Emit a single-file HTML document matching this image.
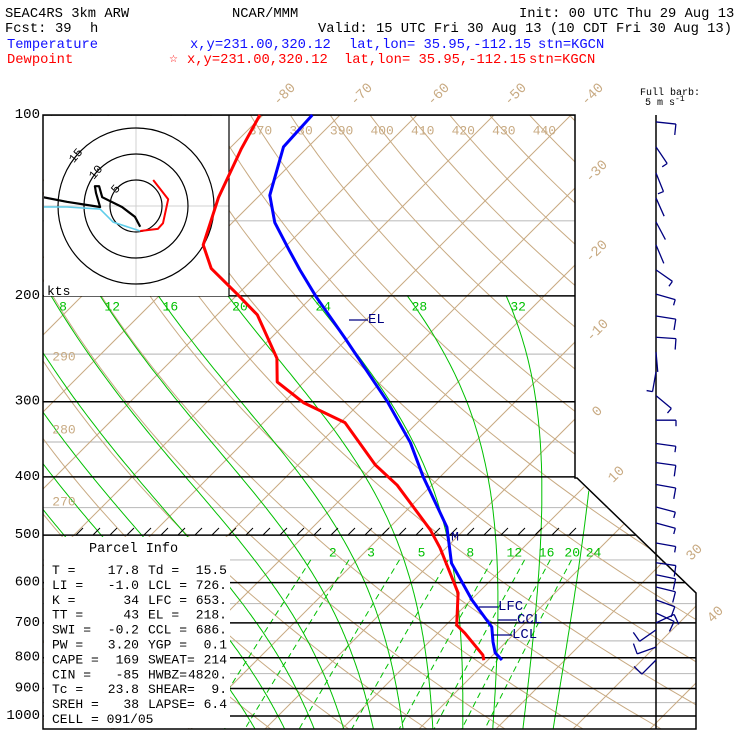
<!DOCTYPE html>
<html><head><meta charset="utf-8"><title>Skew-T KGCN</title>
<style>
html,body{margin:0;padding:0;background:#fff;}
svg{display:block;font-family:"Liberation Mono",monospace;}
</style></head>
<body>
<svg id="chart" xmlns="http://www.w3.org/2000/svg" width="740" height="740" viewBox="0 0 740 740">
<defs>
<clipPath id="plotClip"><path d="M43,115 L575,115 L575,478 L696,593 L696,729 L43,729 Z"/></clipPath>
<clipPath id="hodoClip"><rect x="44" y="116" width="185" height="180"/></clipPath>
</defs>
<rect x="0" y="0" width="740" height="740" fill="#fff"/>
<g font-size="13.8" xml:space="preserve">
<text x="5" y="17">SEAC4RS   3km ARW</text>
<text x="232" y="17">NCAR/MMM</text>
<text x="519" y="17">Init: 00 UTC Thu 29 Aug 13</text>
<text x="5" y="32">Fcst:</text>
<text x="55" y="32">39</text>
<text x="90" y="32">h</text>
<text x="318" y="32">Valid: 15 UTC Fri 30 Aug 13 (10 CDT Fri 30 Aug 13)</text>
<text x="7" y="48" fill="#1010ff">Temperature</text>
<text x="190" y="48" fill="#1010ff">x,y=231.00,320.12</text>
<text x="349" y="48" fill="#1010ff">lat,lon= 35.95,-112.15</text>
<text x="538" y="48" fill="#1010ff">stn=KGCN</text>
<text x="7" y="63" fill="#ff0000">Dewpoint</text>
<text x="169" y="62" fill="#ff0000" font-size="10" font-family="DejaVu Sans, sans-serif">☆</text>
<text x="187" y="63" fill="#ff0000">x,y=231.00,320.12</text>
<text x="344" y="63" fill="#ff0000">lat,lon= 35.95,-112.15</text>
<text x="529" y="63" fill="#ff0000">stn=KGCN</text>
</g>
<text x="640" y="95" font-size="10">Full barb:</text>
<text x="645" y="105" font-size="10">5 m s<tspan dy="-4" font-size="8">-1</tspan></text>
<g id="grid" clip-path="url(#plotClip)"></g>
<rect x="44" y="116" width="185" height="180" fill="#fff"/>
<rect x="44" y="537" width="186" height="191" fill="#fff"/>
<g id="hodo" clip-path="url(#hodoClip)"></g>
<path d="M43,115 L575,115 L575,478 L577,478 L696,593 L696,729 L43,729 Z" fill="none" stroke="#000" stroke-width="1.5"/>
<line x1="229" y1="115" x2="229" y2="296" stroke="#000" stroke-width="1.2"/>
<line x1="656" y1="115" x2="656" y2="729" stroke="#000" stroke-width="1.5"/>
<g id="over"></g>
<g font-size="13.5" xml:space="preserve">
<text x="89" y="552">Parcel Info</text>
</g>
<g id="parcel" font-size="13" xml:space="preserve"></g>
</svg>
<script>
// ---- data ----
const tempP = [100,113,136,151,168,181,201,235,300,351,400,485,557,641,711,753,785,807];
const tempC = [-73.6,-73.2,-68.7,-64.5,-59.0,-55.1,-49.4,-40.4,-26.6,-18.3,-12.2,-2.6,2.7,10.1,16.2,18.3,20.0,21.8];
const dewP = [100,114,137,164.5,180,198,215,254,278,301,325,382,413,490,525,624,706,728,792,808];
const dewC = [-80.4,-78.4,-75.1,-70.9,-66.8,-60.3,-54.8,-46.6,-43.5,-37.4,-29.4,-20,-14.5,-4.4,-0.8,7.4,11.4,13.5,18.7,19.5];
const pressureLevels = [100,200,300,400,500,600,700,800,900,1000];
const pressureHalf = [150,250,350,450,550,650,750,850,950];
const isotherms = [-130,-120,-110,-100,-90,-80,-70,-60,-50,-40,-30,-20,-10,0,10,20,30,40,50];
const dryThetas = [250,260,270,280,290,300,310,320,330,340,350,360,370,380,390,400,410,420,430,440,450,460,470];
const moistThetaW = [-8,-4,0,4,8,12,16,20,24,28,32,36];
const moistLabels = [8,12,16,20,24,28,32];
const mixRatios = [2,3,5,8,12,16,20,24];
const topThetaLabels = [370,380,390,400,410,420,430,440];
const leftThetaLabels = [290,280,270];
const hodoRedU = [3.3,6.2,5.2,4.2,0.8];
const hodoRedV = [5.0,1.3,-3.3,-4.4,-4.8];
const hodoBlackU = [0.8,-0.2,-2.7,-6.5,-7.1,-7.9,-7.7,-6.9,-13.3,-17.9];
const hodoBlackV = [-4.0,-2.1,-0.2,1.7,3.8,3.8,2.5,-0.2,0.8,1.7];
const hodoCyanU = [0.8,-4.4,-6.9,-13.3,-17.9,-17.9,-13.3];
const hodoCyanV = [-4.8,-3.1,-0.6,-0.2,-0.2,1.7,0.8];
const barbP = [102.7,113,124.9,137.4,150.6,164.5,181,198.6,216,234.3,248,267.6,293,322,352,378.8,412,449,477.5,515.5,556,582,610,641,674,700,719,768,807];
const barbAng = [6,56,68,66,62,67,35,16,9,4,85,100,40,0,8,8,10,15,15,10,8,12,14,20,25,-25,145,160,135];
const barbTick = [1,0.5,0.5,0,0,0,0.5,0.5,1,1,0,0.5,0.5,0.5,0.5,1,1,0.5,0.5,0.5,1,1,1,1,1,1,1,1,1];

// ---- geometry ----
const NS = "http://www.w3.org/2000/svg";
const svg = document.getElementById('chart');
const grid = document.getElementById('grid');
const hodo = document.getElementById('hodo');
const over = document.getElementById('over');
const parcel = document.getElementById('parcel');
const Y = p => 115 + 261 * Math.log(p / 100);
const X = (T, p) => 263 + 7.7 * (T + 80) - (Y(p) - 115);
const TAN = "#c8aa82", GREEN = "#00c000", NAVY = "#000080";
function mk(tag, attrs, parent) {
  const e = document.createElementNS(NS, tag);
  for (const k in attrs) e.setAttribute(k, attrs[k]);
  parent.appendChild(e);
  return e;
}
function pathD(pts) { return pts.map((q, i) => (i ? 'L' : 'M') + q[0].toFixed(1) + ',' + q[1].toFixed(1)).join(''); }
function pLevels(p0, p1, n) { const a = []; for (let i = 0; i <= n; i++) a.push(p0 * Math.pow(p1 / p0, i / n)); return a; }
function es(Tc) { return 6.112 * Math.exp(17.67 * Tc / (Tc + 243.5)); }
function tdFromE(e) { const l = Math.log(e / 6.112); return 243.5 * l / (17.67 - l); }

pressureHalf.forEach(p => {
  const l = mk('line', {x1: 43, x2: 700, y1: Y(p), y2: Y(p), stroke: '#c0c0c0', 'stroke-width': 1.2}, grid);
  
  
});
isotherms.forEach(T => {
  const l = mk('line', {x1: X(T, 1100), y1: Y(1100), x2: X(T, 90), y2: Y(90), stroke: TAN, 'stroke-width': 1}, grid);
  
  
});
dryThetas.forEach(th => {
  const pts = pLevels(95, 1100, 60).map(p => [X(th * Math.pow(p / 1000, 0.286) - 273.15, p), Y(p)]);
  const l = mk('path', {d: pathD(pts), fill: 'none', stroke: TAN, 'stroke-width': 1}, grid);
  
  
});
function moist(tw) {
  const Rd = 287.04, cp = 1005.7, Lv = 2.501e6, eps = 0.622;
  function dTdp(T, p) { const e = es(T - 273.15); const rs = eps * e / (p - e); return (Rd * T + Lv * rs) / (p * (cp + Lv * Lv * rs * eps / (Rd * T * T))); }
  let up = [], T = tw + 273.15;
  for (let p = 1000; p >= 200; p -= 5) { up.push([p, T]); T -= 5 * dTdp(T, p - 2.5); }
  let dn = []; T = tw + 273.15;
  for (let p = 1000; p <= 1060; p += 5) { dn.push([p, T]); T += 5 * dTdp(T, p + 2.5); }
  return dn.reverse().concat(up.slice(1));
}
const moistTops = {};
moistThetaW.forEach(tw => {
  const m = moist(tw);
  const pts = m.map(q => [X(q[1] - 273.15, q[0]), Y(q[0])]);
  moistTops[tw] = pts[pts.length - 1];
  const l = mk('path', {d: pathD(pts), fill: 'none', stroke: GREEN, 'stroke-width': 1}, grid);
  
  
});
mixRatios.forEach(w => {
  const pts = pLevels(550, 1060, 20).map(p => [X(tdFromE(w * p / (622 + w)), p), Y(p)]);
  const l = mk('path', {d: pathD(pts), fill: 'none', stroke: GREEN, 'stroke-width': 1, 'stroke-dasharray': '6,4'}, grid);
  
  
});
pressureLevels.forEach(p => {
  const l = mk('line', {x1: 43, x2: 700, y1: Y(p), y2: Y(p), stroke: '#000', 'stroke-width': 1.5}, grid);
  
  
});

function label(x, y, s, color, name, rot, size, anchor) {
  const t = mk('text', {x: x, y: y, fill: color, 'font-size': size || 14, 'text-anchor': anchor || 'middle', 'dominant-baseline': 'central'}, over);
  if (rot) t.setAttribute('transform', 'rotate(' + rot + ' ' + x + ' ' + y + ')');
  t.textContent = s;
  
  
  return t;
}
pressureLevels.forEach(p => label(40, Y(p), String(p), '#000', 'pressure-tick-label', 0, 14, 'end'));
[-80, -70, -60, -50, -40].forEach(T => label(X(T, 100) + 22, 95, String(T), TAN, 'isotherm-label', -45));
const sideIso = [[-30, 597, 172], [-20, 597, 252], [-10, 598, 331], [0, 598, 412], [10, 617, 475], [30, 695, 553], [40, 716, 615]];
sideIso.forEach(s => label(s[1], s[2], String(s[0]), TAN, 'isotherm-label', -45));
topThetaLabels.forEach(th => { const p = 100 * Math.exp((131 - 115) / 261); label(X(th * Math.pow(p / 1000, 0.286) - 273.15, p), 131, String(th), TAN, 'theta-label', 0, 13); });
leftThetaLabels.forEach((th, i) => label(64, [357, 430, 502][i], String(th), TAN, 'theta-label', 0, 13));
moistLabels.forEach(tw => { const q = moistTops[tw]; label(q[0] + 12, 307, String(tw), GREEN, 'moist-adiabat-label', 0, 13); });
mixRatios.forEach(w => { const x = X(tdFromE(w * 550 / (622 + w)), 550); label(x + 22, 553, String(w), GREEN, 'mixing-ratio-label', 0, 13); });

for (let x = 76; x < 585; x += 17) {
  const h = mk('line', {x1: x, y1: 535, x2: x + 7, y2: 528, stroke: '#000', 'stroke-width': 1}, over);
  
  
}

// hodograph
const hc = [136, 206], hs = 5.2;
[0, 1].forEach(i => {
  const g = mk('line', i ? {x1: hc[0], x2: hc[0], y1: 116, y2: 296} : {x1: 44, x2: 229, y1: hc[1], y2: hc[1]}, hodo);
  g.setAttribute('stroke', '#d0d0d0');
  
  
});
[5, 10, 15].forEach(r => {
  const c = mk('circle', {cx: hc[0], cy: hc[1], r: r * hs, fill: 'none', stroke: '#000', 'stroke-width': 1.2}, hodo);
  
  
  const a = -140 * Math.PI / 180;
  const lx = hc[0] + r * hs * Math.cos(a), ly = hc[1] + r * hs * Math.sin(a);
  const t = mk('text', {x: lx, y: ly, 'font-size': 12, 'text-anchor': 'middle', 'dominant-baseline': 'central', fill: '#000', transform: 'rotate(-50 ' + lx + ' ' + ly + ')'}, hodo);
  t.textContent = String(r);
  
  
});
function hodoLine(U, V, color, w, name) {
  const pts = U.map((u, i) => [hc[0] + u * hs, hc[1] - V[i] * hs]);
  const l = mk('path', {d: pathD(pts), fill: 'none', stroke: color, 'stroke-width': w, 'stroke-linejoin': 'round'}, hodo);
  
  
}
hodoLine(hodoCyanU, hodoCyanV, '#5fcdea', 1.6, 'hodograph-cyan-trace');
hodoLine(hodoBlackU, hodoBlackV, '#000', 2.2, 'hodograph-black-trace');
hodoLine(hodoRedU, hodoRedV, '#ff0000', 2, 'hodograph-red-trace');
const kts = mk('text', {x: 47, y: 295, 'font-size': 13, fill: '#000'}, hodo);
kts.textContent = 'kts';



// profiles
function profile(P, T, color, name) {
  const pts = P.map((p, i) => [X(T[i], p), Y(p)]);
  const l = mk('path', {d: pathD(pts), fill: 'none', stroke: color, 'stroke-width': 3, 'stroke-linejoin': 'round'}, over);
  
  
}
profile(dewP, dewC, '#ff0000', 'dewpoint-profile');
profile(tempP, tempC, '#0000ff', 'temperature-profile');

const markers = [['EL', 349, 320], ['LFC', 479, 607], ['CCL', 498, 620], ['LCL', 493, 635]];
markers.forEach(m => {
  const l = mk('line', {x1: m[1], x2: m[1] + 19, y1: m[2], y2: m[2], stroke: NAVY, 'stroke-width': 1.3}, over);
  
  
  label(m[1] + 19, m[2], m[0], NAVY, 'level-marker-label', 0, 14, 'start');
});
label(455, 537, 'M', NAVY, 'melting-level-marker', 0, 13);

// wind barbs
barbP.forEach((p, i) => {
  const y = Y(p), a = barbAng[i] * Math.PI / 180, L = 20;
  const ex = 656 + L * Math.cos(a), ey = y + L * Math.sin(a);
  const s = mk('line', {x1: 656, y1: y, x2: ex, y2: ey, stroke: NAVY, 'stroke-width': 1.3}, over);
  
  
  if (barbTick[i] > 0) {
    const tl = barbTick[i] >= 1 ? 11 : 6, b = a + Math.PI / 2;
    const t = mk('line', {x1: ex, y1: ey, x2: ex + tl * Math.cos(b), y2: ey + tl * Math.sin(b), stroke: NAVY, 'stroke-width': 1.3}, over);
    
    
  }
});

// parcel info rows
const rowLab1 = ['T  =', 'LI =', 'K  =', 'TT =', 'SWI =', 'PW =', 'CAPE =', 'CIN =', 'Tc =', 'SREH =', 'CELL = 091/05'];
const rowVal1 = ['17.8', '-1.0', '34', '43', '-0.2', '3.20', '169', '-85', '23.8', '38', ''];
const rowLab2 = ['Td =', 'LCL =', 'LFC =', 'EL  =', 'CCL =', 'YGP =', 'SWEAT=', 'HWBZ=', 'SHEAR=', 'LAPSE=', ''];
const rowVal2 = ['15.5', '726.', '653.', '218.', '686.', '0.1', '214', '4820.', '9.', '6.4', ''];
rowLab1.forEach((s, i) => {
  const y = 574 + i * 14.9;
  const cells = [[52, s, 'start'], [139, rowVal1[i], 'end'], [148, rowLab2[i], 'start'], [227, rowVal2[i], 'end']];
  cells.forEach(c => {
    if (!c[1]) return;
    const t = mk('text', {x: c[0], y: y, 'text-anchor': c[2]}, parcel);
    t.textContent = c[1];
    
    
  });
});
</script>
</body></html>
